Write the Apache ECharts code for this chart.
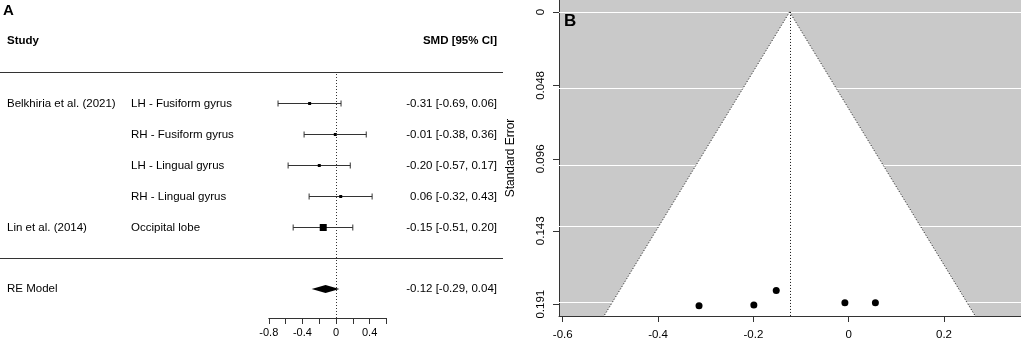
<!DOCTYPE html>
<html>
<head>
<meta charset="utf-8">
<script src="https://cdn.jsdelivr.net/npm/echarts@6/dist/echarts.min.js"></script>
<style>
	* { margin: 0; padding: 0; }
	#main { width: 1021px; height: 342px; }
</style>
</head>
<body>
<div id="main"></div>
<script>
	// panel A - forest plot rows
	var studies = ['Belkhiria et al. (2021)', '', '', '', 'Lin et al. (2014)'];
	var regions = ['LH - Fusiform gyrus', 'RH - Fusiform gyrus', 'LH - Lingual gyrus', 'RH - Lingual gyrus', 'Occipital lobe'];
	var smd = [-0.314, -0.008, -0.199, 0.056, -0.152];
	var ciLow = [-0.69, -0.38, -0.57, -0.32, -0.51];
	var ciHigh = [0.06, 0.36, 0.17, 0.43, 0.20];
	var weights = [9.5, 9.5, 9.5, 9.5, 52];
	// random effects model
	var reEst = -0.124;
	var reLow = -0.29;
	var reHigh = 0.04;
	var forestLabels = [-0.8, -0.4, 0, 0.4];

	// panel B - funnel plot
	var standardErrors = [0.192, 0.190, 0.1915, 0.190, 0.182];
	var seTicks = [0, 0.048, 0.096, 0.143, 0.191];
	var funnelTicks = [-0.6, -0.4, -0.2, 0, 0.2];

	var FONT = '"Liberation Sans", Arial, sans-serif';
	var seMin = -0.0078, seMax = 0.1987;
	var maxW = Math.max.apply(null, weights);

	function fmt(v) {
		return v.toFixed(2);
	}
	function ciText(e, l, h) {
		return fmt(e) + ' [' + fmt(l) + ', ' + fmt(h) + ']';
	}
	function txt(x, y, s, align, bold) {
		return {
			type: 'text', x: x, y: y,
			style: {
				text: s, fill: '#000', align: align, verticalAlign: 'middle',
				font: (bold ? 'bold ' : '') + '11.5px ' + FONT
			}
		};
	}
	function crisp(y) {
		return Math.round(y) + 0.5;
	}

	var rows = smd.map(function(v, i) {
		return [v, ciLow[i], ciHigh[i], studies.length - i];
	});

	function renderStudy(params, api) {
		var i = params.dataIndex;
		var row = api.value(3);
		var pLo = api.coord([api.value(1), row]);
		var pHi = api.coord([api.value(2), row]);
		var pEst = api.coord([api.value(0), row]);
		var y = crisp(pEst[1]);
		var box = 7 * Math.sqrt(weights[i] / maxW);
		var ls = { stroke: '#333', lineWidth: 1 };
		return {
			type: 'group',
			children: [
				{ type: 'line', shape: { x1: pLo[0], y1: y, x2: pHi[0], y2: y }, style: ls },
				{ type: 'line', shape: { x1: pLo[0], y1: y - 3, x2: pLo[0], y2: y + 3 }, style: ls },
				{ type: 'line', shape: { x1: pHi[0], y1: y - 3, x2: pHi[0], y2: y + 3 }, style: ls },
				{ type: 'rect', shape: { x: pEst[0] - box / 2, y: y - box / 2, width: box, height: box }, style: { fill: '#000' } },
				txt(7, y, studies[i], 'left'),
				txt(131, y, regions[i], 'left'),
				txt(497, y, ciText(api.value(0), api.value(1), api.value(2)), 'right')
			]
		};
	}

	function renderRE(params, api) {
		var l = api.coord([reLow, -1]);
		var c = api.coord([reEst, -1]);
		var h = api.coord([reHigh, -1]);
		var y = c[1];
		return {
			type: 'group',
			children: [
				{ type: 'polygon', shape: { points: [[l[0], y], [c[0], y - 4], [h[0], y], [c[0], y + 4]] }, style: { fill: '#000' } },
				txt(7, y, 'RE Model', 'left'),
				txt(497, y, ciText(reEst, reLow, reHigh), 'right')
			]
		};
	}

	function renderFrame(params, api) {
		var head = api.coord([0, 7])[1];
		var top = crisp(api.coord([0, 6])[1]);
		var bot = crisp(api.coord([0, 0])[1]);
		return {
			type: 'group',
			children: [
				txt(7, head, 'Study', 'left', true),
				txt(497, head, 'SMD [95% CI]', 'right', true),
				{ type: 'line', shape: { x1: 0, y1: top, x2: 503, y2: top }, style: { stroke: '#333', lineWidth: 1 } },
				{ type: 'line', shape: { x1: 0, y1: bot, x2: 503, y2: bot }, style: { stroke: '#333', lineWidth: 1 } }
			]
		};
	}

	function renderFunnel(params, api) {
		var est = api.value(0);
		var apex = api.coord([est, 0]);
		var bl = api.coord([est - 1.96 * seMax, seMax]);
		var br = api.coord([est + 1.96 * seMax, seMax]);
		var mid = api.coord([est, seMax]);
		var dot = { stroke: '#111', lineWidth: 1, lineDash: [1, 2] };
		return {
			type: 'group',
			children: [
				{ type: 'polygon', shape: { points: [apex, bl, br] }, style: { fill: '#fff' } },
				{ type: 'line', shape: { x1: apex[0], y1: apex[1], x2: bl[0], y2: bl[1] }, style: dot },
				{ type: 'line', shape: { x1: apex[0], y1: apex[1], x2: br[0], y2: br[1] }, style: dot },
				{ type: 'line', shape: { x1: crisp(apex[0]), y1: apex[1], x2: crisp(mid[0]), y2: mid[1] }, style: dot }
			]
		};
	}

	var chart = echarts.init(document.getElementById('main'));
	chart.setOption({
		animation: false,
		backgroundColor: '#fff',
		textStyle: { fontFamily: FONT },
		graphic: [
			{ type: 'text', left: 3, top: 3, style: { text: 'A', font: 'bold 15px ' + FONT, fill: '#000' } },
			{ type: 'text', left: 564, top: 13, z: 10, style: { text: 'B', font: 'bold 17px ' + FONT, fill: '#000' } }
		],
		grid: [
			{ left: 268.8, width: 117.6, top: 72, height: 246 },
			{ left: 559, right: 0, top: 0, bottom: 26, show: true, backgroundColor: '#c9c9c9', borderWidth: 0 }
		],
		xAxis: [{
			gridIndex: 0,
			type: 'value',
			min: -0.8,
			max: 0.6,
			interval: 0.2,
			splitLine: { show: false },
			axisLine: { onZero: false, lineStyle: { color: '#333' } },
			axisTick: { length: 6, lineStyle: { color: '#333' } },
			axisLabel: { customValues: forestLabels, margin: 9, fontSize: 11, color: '#000' }
		}, {
			gridIndex: 1,
			type: 'value',
			min: -0.6078,
			max: 0.3615,
			splitLine: { show: false },
			axisLine: { onZero: false, lineStyle: { color: '#333' } },
			axisTick: { customValues: funnelTicks, length: 6, lineStyle: { color: '#333' } },
			axisLabel: { customValues: funnelTicks, margin: 13, fontSize: 11.5, color: '#000' }
		}],
		yAxis: [{
			gridIndex: 0,
			type: 'value',
			min: -1.935,
			max: 6,
			show: false
		}, {
			gridIndex: 1,
			type: 'value',
			inverse: true,
			min: seMin,
			max: seMax,
			name: 'Standard Error',
			nameLocation: 'middle',
			nameGap: 42,
			nameTextStyle: { fontSize: 12, color: '#000' },
			splitLine: { show: false },
			axisLine: { show: true, onZero: false, lineStyle: { color: '#333' } },
			axisTick: { show: true, customValues: seTicks, length: 6, lineStyle: { color: '#333' } },
			axisLabel: { customValues: seTicks, rotate: 90, margin: 12, fontSize: 11.5, color: '#000' }
		}],
		series: [{
			type: 'custom',
			xAxisIndex: 0, yAxisIndex: 0,
			data: [[0]],
			renderItem: renderFrame,
			silent: true
		}, {
			type: 'custom',
			xAxisIndex: 0, yAxisIndex: 0,
			data: rows,
			renderItem: renderStudy,
			silent: true,
			markLine: {
				silent: true,
				symbol: 'none',
				label: { show: false },
				lineStyle: { color: '#333', type: [1, 2], width: 1 },
				data: [{ xAxis: 0 }]
			}
		}, {
			type: 'custom',
			xAxisIndex: 0, yAxisIndex: 0,
			data: [[reEst]],
			renderItem: renderRE,
			silent: true
		}, {
			type: 'line',
			xAxisIndex: 1, yAxisIndex: 1,
			data: [],
			z: 1,
			markLine: {
				z: 1,
				silent: true,
				symbol: 'none',
				label: { show: false },
				lineStyle: { color: '#fff', type: 'solid', width: 1 },
				data: seTicks.map(function(v) { return { yAxis: v }; })
			}
		}, {
			type: 'custom',
			xAxisIndex: 1, yAxisIndex: 1,
			data: [[reEst]],
			renderItem: renderFunnel,
			z: 2,
			silent: true
		}, {
			type: 'scatter',
			xAxisIndex: 1, yAxisIndex: 1,
			data: smd.map(function(v, i) { return [v, standardErrors[i]]; }),
			symbolSize: 7,
			itemStyle: { color: '#000', opacity: 1 },
			z: 4,
			silent: true
		}]
	});
</script>
</body>
</html>
